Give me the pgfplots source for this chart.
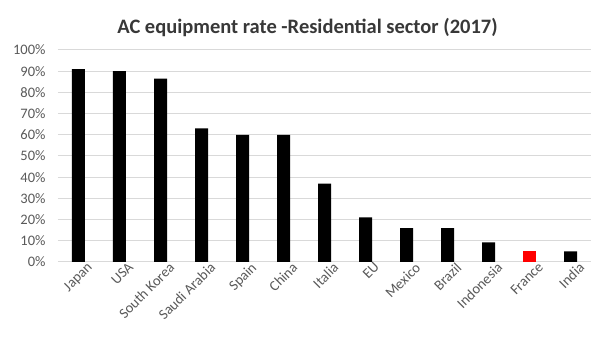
\documentclass[border=0pt]{standalone}
\usepackage{pgfplots}
\pgfplotsset{compat=1.18}
\usepackage{fontspec}
\setmainfont{Carlito}
\definecolor{tickgray}{HTML}{595959}
\definecolor{gridgray}{HTML}{D9D9D9}
\begin{document}
\begin{tikzpicture}
\useasboundingbox (-58pt,-85pt) rectangle (533pt,262pt);
\begin{axis}[
  scale only axis,
  width=533pt, height=212pt,
  xmin=-0.5, xmax=12.5,
  ymin=0, ymax=100,
  ytick={0,10,...,100},
  yticklabels={0\%,10\%,20\%,30\%,40\%,50\%,60\%,70\%,80\%,90\%,100\%},
  xtick={0,...,12},
  xticklabels={Japan,USA,South Korea,Saudi Arabia,Spain,China,Italia,EU,Mexico,Brazil,Indonesia,France,India},
  x tick label style={rotate=45, anchor=north east, font=\fontsize{14.5}{16}\selectfont, text=tickgray, inner sep=1pt, xshift=7pt, yshift=-4pt},
  y tick label style={font=\fontsize{14.5}{16}\selectfont, text=tickgray, xshift=-9pt},
  ymajorgrids,
  grid style={gridgray, line width=1pt},
  axis line style={draw=none},
  major tick length=0pt,
  ybar, bar width=13pt,
  title={\bfseries AC equipment rate -Residential sector (2017)},
  title style={font=\fontsize{20.5}{22}\selectfont, text=black!78, yshift=4pt, xshift=-17pt},
]
\addplot[fill=black, draw=none, bar shift=0pt] coordinates {
(0,91) (1,90) (2,86.5) (3,63) (4,60) (5,60) (6,37) (7,21) (8,16) (9,16) (10,9.3) (12,5)
};
\addplot[fill=red, draw=none, bar shift=0pt] coordinates {(11,5)};
\end{axis}
\end{tikzpicture}
\end{document}
